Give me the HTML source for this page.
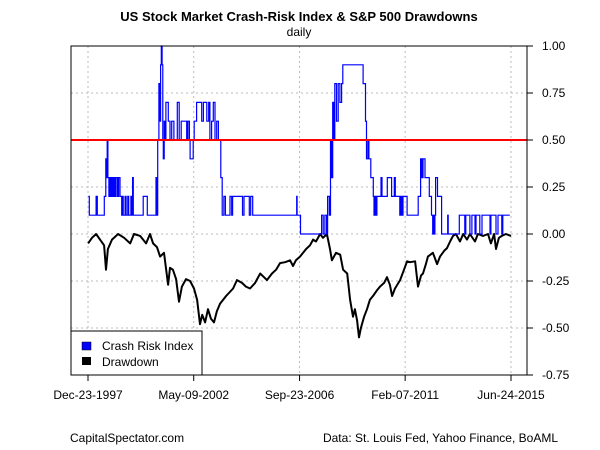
<!DOCTYPE html>
<html><head><meta charset="utf-8"><style>
html,body{margin:0;padding:0;background:#fff;}
svg{display:block;font-family:"Liberation Sans",Arial,sans-serif;}
</style></head><body>
<svg id="chart" width="600" height="450" viewBox="0 0 600 450" xmlns="http://www.w3.org/2000/svg">
<rect x="0" y="0" width="600" height="450" fill="#fff"/>
<text x="299" y="21" text-anchor="middle" font-size="13" font-weight="bold">US Stock Market Crash-Risk Index &amp; S&amp;P 500 Drawdowns</text>
<text x="299" y="36" text-anchor="middle" font-size="12">daily</text>
<g id="grid"></g>
<g id="marks"></g>
<g id="axes"></g>
<g>
<rect x="71" y="331" width="131" height="44" fill="#fff" stroke="#000" stroke-width="1"/>
<rect x="82" y="342" width="9" height="8" fill="#0000ff" stroke="#000" stroke-width="0.5"/>
<text x="102" y="350" font-size="12">Crash Risk Index</text>
<rect x="82" y="357" width="9" height="8" fill="#000"/>
<text x="102" y="366" font-size="12">Drawdown</text>
</g>
<text x="70" y="442" font-size="12">CapitalSpectator.com</text>
<text x="558" y="442" text-anchor="end" font-size="12">Data: St. Louis Fed, Yahoo Finance, BoAML</text>
</svg>
<script>
const xTickLabels=["Dec-23-1997","May-09-2002","Sep-23-2006","Feb-07-2011","Jun-24-2015"];
const xTickYears=[1997.975,2002.35,2006.73,2011.10,2015.48];
const yTicks=[1.00,0.75,0.50,0.25,0.00,-0.25,-0.50,-0.75];
const threshold=0.5;
const crashYears=[1997.99,1998.03,1998.31,1998.36,1998.65,1998.71,1998.75,1998.77,1998.80,1998.84,1998.89,1998.91,1998.96,1999.00,1999.05,1999.09,1999.13,1999.19,1999.24,1999.30,1999.37,1999.41,1999.43,1999.51,1999.55,1999.62,1999.66,1999.75,1999.80,1999.82,1999.85,2000.26,2000.43,2000.79,2000.83,2000.86,2000.91,2000.95,2000.98,2001.01,2001.04,2001.07,2001.09,2001.13,2001.17,2001.20,2001.30,2001.37,2001.44,2001.53,2001.67,2001.75,2001.83,2002.06,2002.11,2002.17,2002.20,2002.33,2002.37,2002.47,2002.68,2002.75,2002.89,2002.97,2003.02,2003.09,2003.16,2003.23,2003.30,2003.37,2003.47,2003.53,2003.60,2003.66,2003.85,2003.92,2003.96,2004.37,2004.43,2004.65,2004.71,2004.79,2006.61,2006.63,2006.77,2007.64,2007.71,2007.78,2007.85,2007.89,2007.96,2008.01,2008.06,2008.10,2008.15,2008.19,2008.26,2008.33,2008.40,2008.47,2008.52,2009.36,2009.46,2009.50,2009.56,2009.60,2009.68,2009.78,2009.81,2009.85,2009.89,2009.93,2010.10,2010.14,2010.36,2010.54,2010.65,2010.69,2010.88,2010.92,2010.97,2011.01,2011.18,2011.64,2011.74,2011.79,2011.84,2011.92,2012.10,2012.19,2012.24,2012.26,2012.29,2012.33,2012.36,2012.44,2012.61,2012.86,2012.88,2013.34,2013.57,2013.61,2013.78,2013.86,2013.99,2014.03,2014.19,2014.28,2014.61,2014.65,2014.86,2014.94,2015.10,2015.14,2015.35,2015.43,2015.48];
const crashValues=[0.2,0.1,0.2,0.1,0.2,0.4,0.3,0.5,0.3,0.2,0.3,0.2,0.3,0.2,0.3,0.2,0.3,0.2,0.3,0.2,0.1,0.2,0.1,0.2,0.1,0.2,0.1,0.2,0.1,0.3,0.1,0.2,0.1,0.3,0.1,0.5,0.8,0.6,0.9,1.0,0.9,0.5,0.4,0.6,0.5,0.7,0.6,0.5,0.6,0.5,0.7,0.5,0.6,0.5,0.6,0.5,0.4,0.5,0.6,0.7,0.6,0.7,0.6,0.7,0.5,0.6,0.7,0.5,0.6,0.5,0.3,0.1,0.2,0.1,0.2,0.1,0.2,0.1,0.2,0.1,0.2,0.1,0.2,0.1,0.0,0.1,0.0,0.1,0.0,0.2,0.1,0.5,0.3,0.7,0.5,0.8,0.6,0.8,0.7,0.8,0.9,0.8,0.6,0.4,0.5,0.4,0.3,0.2,0.1,0.2,0.1,0.2,0.3,0.2,0.3,0.2,0.3,0.2,0.1,0.2,0.1,0.2,0.1,0.2,0.4,0.3,0.4,0.3,0.2,0.1,0.0,0.1,0.0,0.1,0.3,0.2,0.0,0.1,0.0,0.1,0.0,0.1,0.0,0.1,0.0,0.1,0.0,0.1,0.0,0.1,0.0,0.1,0.0,0.1,0.1];
const ddYears=[1997.98,1998.14,1998.31,1998.47,1998.64,1998.72,1998.80,1998.97,1999.22,1999.47,1999.72,1999.88,2000.13,2000.38,2000.54,2000.67,2000.83,2000.96,2001.12,2001.29,2001.37,2001.49,2001.62,2001.74,2001.86,2002.03,2002.20,2002.36,2002.49,2002.61,2002.70,2002.82,2002.94,2003.06,2003.19,2003.31,2003.44,2003.69,2003.98,2004.14,2004.35,2004.51,2004.68,2004.89,2005.10,2005.26,2005.38,2005.59,2005.76,2005.92,2006.13,2006.34,2006.46,2006.58,2006.75,2007.00,2007.16,2007.29,2007.41,2007.58,2007.70,2007.86,2007.99,2008.07,2008.24,2008.41,2008.53,2008.70,2008.82,2008.94,2009.02,2009.11,2009.19,2009.27,2009.40,2009.52,2009.64,2009.77,2009.93,2010.06,2010.23,2010.35,2010.47,2010.56,2010.68,2010.89,2011.05,2011.18,2011.30,2011.51,2011.63,2011.76,2011.84,2011.96,2012.04,2012.25,2012.42,2012.54,2012.71,2012.83,2012.96,2013.08,2013.20,2013.37,2013.50,2013.66,2013.78,2013.99,2014.11,2014.32,2014.53,2014.65,2014.78,2014.86,2014.98,2015.10,2015.27,2015.48];
const ddValues=[-0.05,-0.02,0,-0.03,-0.06,-0.19,-0.08,-0.03,0,-0.02,-0.05,0,-0.01,-0.05,0,-0.05,-0.07,-0.12,-0.10,-0.27,-0.18,-0.19,-0.24,-0.36,-0.28,-0.24,-0.25,-0.29,-0.35,-0.48,-0.43,-0.47,-0.40,-0.45,-0.47,-0.41,-0.37,-0.33,-0.29,-0.245,-0.26,-0.28,-0.29,-0.26,-0.21,-0.23,-0.245,-0.21,-0.19,-0.155,-0.15,-0.14,-0.17,-0.14,-0.12,-0.08,-0.06,-0.03,-0.04,0,-0.02,0,-0.08,-0.14,-0.10,-0.11,-0.19,-0.21,-0.35,-0.44,-0.40,-0.46,-0.55,-0.50,-0.44,-0.40,-0.35,-0.33,-0.30,-0.28,-0.26,-0.23,-0.27,-0.33,-0.29,-0.245,-0.19,-0.145,-0.15,-0.145,-0.28,-0.22,-0.21,-0.16,-0.12,-0.10,-0.16,-0.12,-0.09,-0.075,-0.04,-0.01,0,-0.04,0,-0.03,0,-0.04,0,-0.01,0,-0.05,0,-0.08,-0.02,-0.01,0,-0.01];

const NS="http://www.w3.org/2000/svg";
const L=71,R=527,T=46,B=375;
const X0=88,X1=511,Y0=1997.975,Y1=2015.48;
function xs(y){return X0+(y-Y0)/(Y1-Y0)*(X1-X0);}
function ys(v){return 234-188*v;}
function mk(tag,attrs,parent){const e=document.createElementNS(NS,tag);for(const k in attrs)e.setAttribute(k,attrs[k]);parent.appendChild(e);return e;}
const grid=document.getElementById('grid'),marks=document.getElementById('marks'),axes=document.getElementById('axes');
xTickYears.forEach((yr,i)=>{
  const x=xs(yr);
  const g=mk('line',{x1:x,x2:x,y1:T,y2:B,stroke:'#bbb','stroke-dasharray':'2,3','stroke-width':1},grid);
  
  
  const t=mk('line',{x1:x,x2:x,y1:B,y2:B+6,stroke:'#000'},axes);
  
  
  const lb=mk('text',{x:x,y:399,'text-anchor':'middle','font-size':12},axes);
  lb.textContent=xTickLabels[i];
  
  
});
yTicks.forEach(v=>{
  const y=ys(v);
  const g=mk('line',{x1:L,x2:R,y1:y,y2:y,stroke:'#bbb','stroke-dasharray':'2,3','stroke-width':1},grid);
  
  
  const t=mk('line',{x1:R,x2:R+6,y1:y,y2:y,stroke:'#000'},axes);
  
  
  const lb=mk('text',{x:542,y:y+4,'text-anchor':'start','font-size':12},axes);
  lb.textContent=v.toFixed(2);
  
  
});
let d='';
ddYears.forEach((yr,i)=>{d+=(i?'L':'M')+xs(yr).toFixed(1)+','+ys(ddValues[i]).toFixed(1);});
const dd=mk('path',{d:d,fill:'none',stroke:'#000','stroke-width':2,'stroke-linejoin':'round'},marks);


let c='';
crashYears.forEach((yr,i)=>{
  const x=xs(yr).toFixed(1),y=ys(crashValues[i]).toFixed(1);
  if(i===0)c+='M'+x+','+y;else c+='H'+x+'V'+y;
});
const cr=mk('path',{d:c,fill:'none',stroke:'#0000ff','stroke-width':1.2},marks);


const th=mk('line',{x1:L,x2:R,y1:ys(threshold),y2:ys(threshold),stroke:'#ff0000','stroke-width':2},marks);


const box=mk('rect',{x:L,y:T,width:R-L,height:B-T,fill:'none',stroke:'#000','stroke-width':1},axes);


</script>
</body></html>
